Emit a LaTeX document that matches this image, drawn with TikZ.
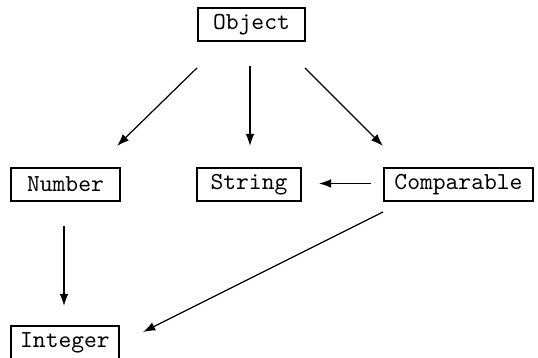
\documentclass[tikz,border=0pt]{standalone}
\usetikzlibrary{arrows.meta,calc}
\newcommand\pxu{0.41pt}
\begin{document}
\begin{tikzpicture}[x=0.41pt,y=-0.41pt,
  box/.style={draw,line width=0.8pt,inner sep=0pt,font=\ttfamily,anchor=north west,minimum height=33*\pxu},
  arr/.style={line width=0.5pt,-{Latex[length=5pt,width=3.6pt]}}]
\useasboundingbox (0,0) rectangle (538,358);
\node[box,minimum width=107*\pxu] (obj) at (197,7) {Object};
\node[box,minimum width=109*\pxu] (num) at (10,167) {Number};
\node[box,minimum width=104*\pxu] (str) at (196,167) {String};
\node[box,minimum width=149*\pxu] (cmp) at (383,167) {Comparable};
\node[box,minimum width=108*\pxu] (int) at (10,325) {Integer};
\coordinate (o1) at ($(obj.south west)+(0,26)$);
\coordinate (o2) at (250,66);
\coordinate (o3) at ($(obj.south east)+(-1,26)$);
\coordinate (n1) at (117,146);
\coordinate (s1) at (250,146);
\coordinate (c1) at (383,146);
\coordinate (c2) at ($(cmp.west)+(-12,-1)$);
\coordinate (s2) at ($(str.east)+(17,-1)$);
\coordinate (n2) at (64,226);
\coordinate (i1) at (64,306);
\coordinate (c3) at (383,212);
\coordinate (i2) at (143,332);
\draw[arr] (o1) -- (n1);
\draw[arr] (o2) -- (s1);
\draw[arr] (o3) -- (c1);
\draw[arr] (c2) -- (s2);
\draw[arr] (n2) -- (i1);
\draw[arr] (c3) -- (i2);
\end{tikzpicture}
\end{document}
